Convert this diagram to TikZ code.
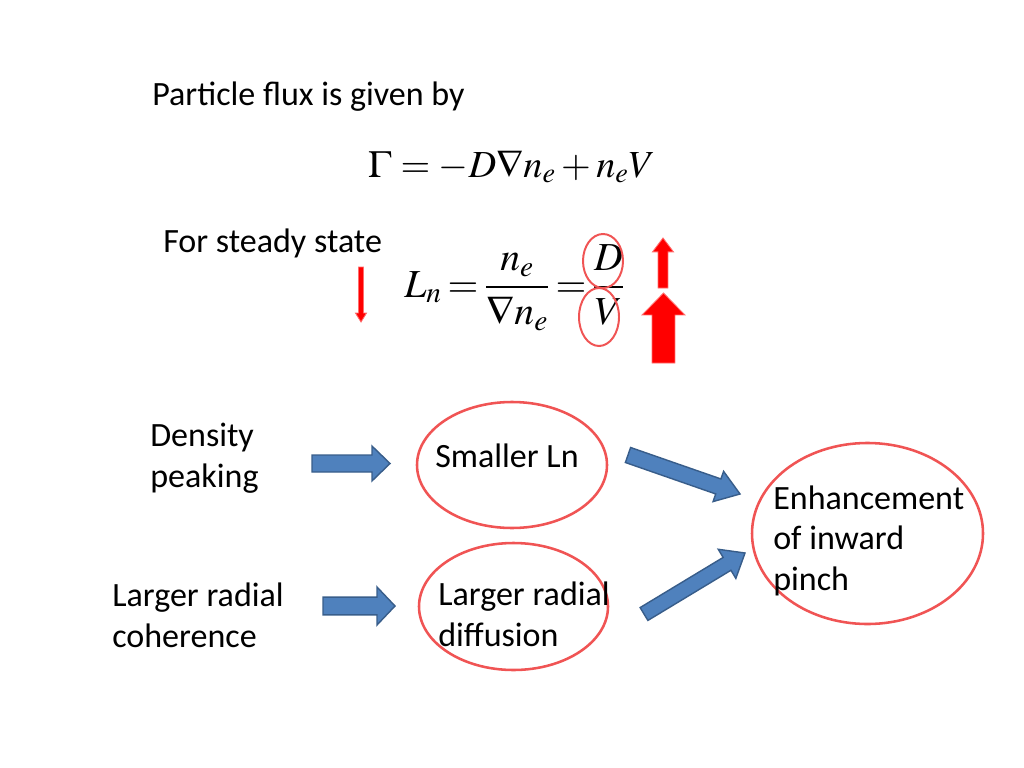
\documentclass[tikz,border=0pt]{standalone}
\usepackage{mathptmx}
\usepackage[no-math]{fontspec}
\setmainfont{Carlito}
\usetikzlibrary{shapes.geometric,calc,positioning}

\definecolor{arrowblue}{RGB}{79,129,189}
\definecolor{arrowedge}{RGB}{56,93,138}
\definecolor{ringred}{RGB}{240,84,84}
\definecolor{hotred}{RGB}{255,0,0}
\definecolor{hotedge}{RGB}{255,110,110}

\def\pxu{0.0248cm}

\newcommand{\fatarrow}[6]{%
  \coordinate (hb) at ($(#3)!#6!(#2)$);
  \path[#1] ($(#2)!#4!90:(#3)$) -- ($(hb)!#4!90:(#3)$) -- ($(hb)!#5!90:(#3)$) -- (#3)
    -- ($(hb)!#5!-90:(#3)$) -- ($(hb)!#4!-90:(#3)$) -- ($(#2)!#4!-90:(#3)$) -- cycle;
}

\tikzset{
  txt/.style={inner sep=0pt, font=\fontsize{24}{28.5}\selectfont, align=left, anchor=base west},
  ring/.style={ellipse, draw=ringred, line width=1.8pt, inner sep=0pt},
  bluearrow/.style={fill=arrowblue, draw=arrowedge, line width=1pt, line join=miter},
  redarrow/.style={fill=hotred, draw=hotedge, line width=0.6pt}
}

\begin{document}
\begin{tikzpicture}[x=\pxu, y=-\pxu]
    \useasboundingbox (0,0) rectangle (1024,768);

    \node [txt] (flux) at (152,106) {Particle flux is given by};
    \node [inner sep=0pt, anchor=base] (fluxeq) at (512,177) {\fontsize{27}{30}\selectfont $\Gamma=-D\nabla n_e+n_eV$};
    \node [txt] (steady) at (163,252) {For steady state};
    \node [inner sep=0pt, anchor=base west] (lneq) at (404,297) {\fontsize{28}{32}\selectfont \thickmuskip=2.7mu $\displaystyle L_n=\frac{n_e}{\nabla n_e}=\frac{D}{V}$};
    \node [ring, line width=1.4pt, minimum width=40*\pxu, minimum height=54*\pxu] (dring) at (603,261) {};
    \node [ring, line width=1.4pt, minimum width=40*\pxu, minimum height=58*\pxu] (vring) at (599,317) {};

    \coordinate (downtail) at (361,267);
    \coordinate (downtip) at (361,322);
    \coordinate (uptail) at (663,288);
    \coordinate (uptip) at (663,238);
    \coordinate (bigtail) at (663.5,363);
    \coordinate (bigtip) at (663.5,293);
    \fatarrow{redarrow}{downtail}{downtip}{1.8pt}{3.9pt}{6.3pt}
    \fatarrow{redarrow}{uptail}{uptip}{3.5pt}{7.4pt}{9.8pt}
    \fatarrow{redarrow}{bigtail}{bigtip}{8.1pt}{15.1pt}{15.5pt}

    \node [txt] (dens) at (150,487) {Density\\peaking};
    \node [ring, minimum width=190*\pxu, minimum height=126*\pxu] (lnring) at (512,465) {};
    \node [txt] (smaller) at (435,467) {Smaller Ln};
    \node [txt] (coh) at (112,647) {Larger radial\\coherence};
    \node [ring, minimum width=189*\pxu, minimum height=127*\pxu] (diffring) at (513.5,606.5) {};
    \node [txt] (diff) at (438,646) {Larger radial\\diffusion};
    \node [ring, minimum width=231*\pxu, minimum height=181*\pxu] (pinchring) at (867.5,533.5) {};
    \node [txt] (enh) at (773,590) {Enhancement\\of inward\\pinch};

    \coordinate (a1) at (312,463.5);
    \coordinate (b1) at (390,463.5);
    \coordinate (a2) at (323,606);
    \coordinate (b2) at (395,606);
    \coordinate (a3) at (628,455);
    \coordinate (b3) at (740,494);
    \coordinate (a4) at (644,614);
    \coordinate (b4) at (745,553);
    \fatarrow{bluearrow}{a1}{b1}{6pt}{12.3pt}{12.7pt}
    \fatarrow{bluearrow}{a2}{b2}{6.3pt}{13.4pt}{12.7pt}
    \fatarrow{bluearrow}{a3}{b3}{5.6pt}{11.3pt}{16.2pt}
    \fatarrow{bluearrow}{a4}{b4}{5.3pt}{12pt}{14.8pt}
\end{tikzpicture}
\end{document}
